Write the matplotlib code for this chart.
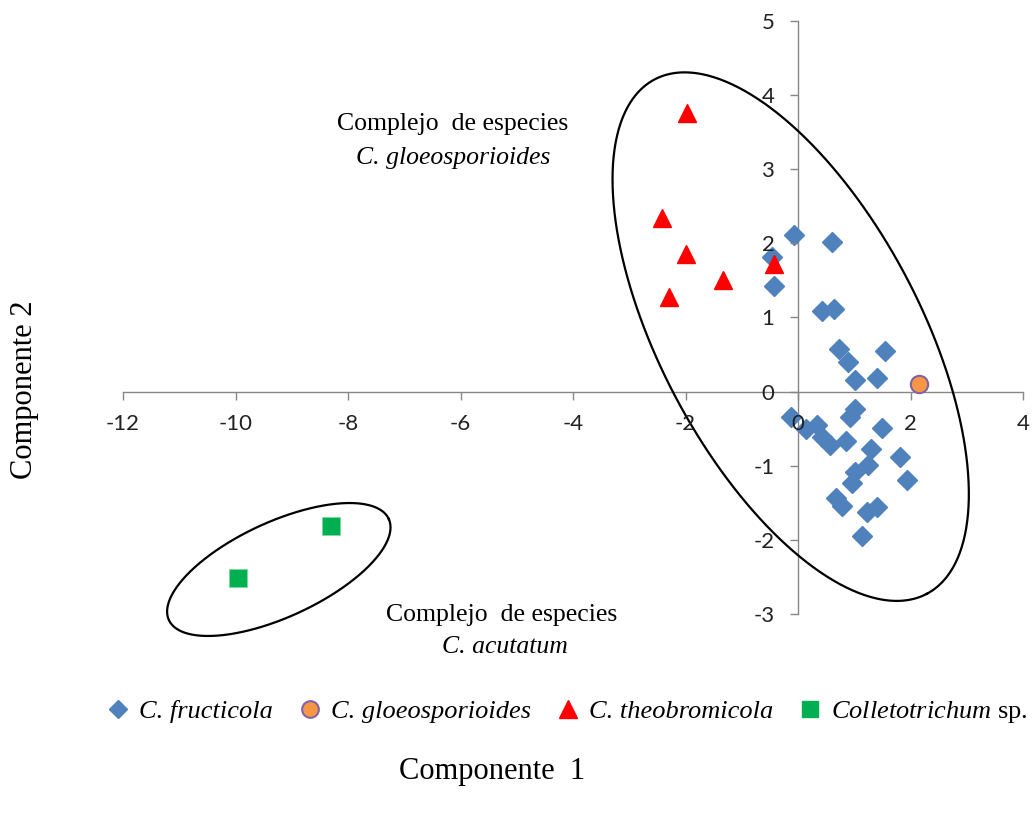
import numpy as np
import matplotlib
matplotlib.use("Agg")
import matplotlib.pyplot as plt
from matplotlib.lines import Line2D

plt.rcParams['axes.unicode_minus'] = False
plt.rcParams['mathtext.fontset'] = 'custom'
plt.rcParams['mathtext.it'] = 'Liberation Serif:italic'
plt.rcParams['mathtext.rm'] = 'Liberation Serif'

# ---- data ----
fructicola_x = [-0.07, 0.61, -0.46, -0.43, 0.43, 0.64, 0.72, 0.88, 1.54, 1.01, 1.41,
                -0.12, 0.14, 0.34, 0.43, 0.57, 0.85, 1.02, 0.92, 1.50, 1.29, 1.24,
                1.02, 0.96, 1.82, 1.94, 0.67, 0.79, 1.23, 1.41, 1.14]
fructicola_y = [2.11, 2.02, 1.82, 1.42, 1.08, 1.11, 0.57, 0.40, 0.54, 0.16, 0.18,
                -0.34, -0.50, -0.45, -0.61, -0.72, -0.67, -0.24, -0.34, -0.49, -0.77, -0.99,
                -1.08, -1.23, -0.88, -1.19, -1.44, -1.55, -1.62, -1.56, -1.95]
gloeo_x = [2.15]
gloeo_y = [0.10]
theo_x = [-1.98, -2.42, -1.99, -1.34, -2.30, -0.43]
theo_y = [3.75, 2.34, 1.85, 1.50, 1.28, 1.72]
sp_x = [-8.30, -9.95]
sp_y = [-1.81, -2.51]

xticks = list(range(-12, 5, 2))
yticks = list(range(-3, 6))
labels = ["C. fructicola", "C. gloeosporioides",
          "C. theobromicola", r"$\mathit{Colletotrichum}$ sp."]

W, H = 1033, 814
fig = plt.figure(figsize=(W / 100, H / 100), dpi=100)
ax = fig.add_axes([123 / W, 200 / H, 900 / W, 593.3 / H])
ax.set_xlim(-12, 4)
ax.set_ylim(-3, 5)

for s in ['top', 'right']:
    ax.spines[s].set_visible(False)
for s in ['left', 'bottom']:
    ax.spines[s].set_position(('data', 0))
    ax.spines[s].set_color('#868686')
    ax.spines[s].set_linewidth(1.0)
    ax.spines[s].set_zorder(1)

ax.set_xticks(xticks)
ax.set_yticks(yticks)
ax.tick_params(direction='out', length=6, color='#868686', width=1.0,
               labelsize=16, labelcolor='#222222')
ax.tick_params(axis='x', pad=10)
ax.tick_params(axis='y', pad=11)
for lab in ax.get_xticklabels() + ax.get_yticklabels():
    lab.set_family('Lato')
ax.xaxis.set_zorder(5)
ax.yaxis.set_zorder(5)

blue = '#4F81BD'
ax.plot(fructicola_x, fructicola_y, ls='none', marker='D', ms=10, mfc=blue, mec=blue, zorder=3)
ax.plot(gloeo_x, gloeo_y, ls='none', marker='o', ms=12.5, mfc='#F79646', mec='#8064A2', mew=1.5, zorder=4)
ax.plot(theo_x, theo_y, ls='none', marker='^', ms=13.5, mfc='#FF0000', mec='#FF0000', zorder=4)
ax.plot(sp_x, sp_y, ls='none', marker='s', ms=13.5, mfc='#00B050', mec='#7FD8A0', mew=0.6, zorder=4)

# ellipses (defined in pixel units, converted to data units)
pos = ax.get_position()
sx = pos.width * W / 16.0
sy = pos.height * H / 8.0


def ellipse_xy(cx, cy, a_px, b_px, ang_deg):
    t = np.linspace(0, 2 * np.pi, 500)
    u = a_px * np.cos(t)
    v = b_px * np.sin(t)
    th = np.radians(ang_deg)
    px = u * np.cos(th) - v * np.sin(th)
    py = u * np.sin(th) + v * np.cos(th)
    return cx + px / sx, cy + py / sy


ex, ey = ellipse_xy(-0.13, 0.74, 291, 130, -62.1)
ax.plot(ex, ey, color='black', lw=1.6, zorder=2, clip_on=False)
ex, ey = ellipse_xy(-9.23, -2.40, 121, 47.5, 24.7)
ax.plot(ex, ey, color='black', lw=1.6, zorder=2, clip_on=False)

serif = 'Liberation Serif'
fig.text(453 / W, 1 - 124 / H, "Complejo  de especies", family=serif, size=18.5,
         ha='center', va='center')
fig.text(453 / W, 1 - 158 / H, "C. gloeosporioides", family=serif, size=18.5,
         style='italic', ha='center', va='center')
fig.text(502 / W, 1 - 615 / H, "Complejo  de especies", family=serif, size=18.5,
         ha='center', va='center')
fig.text(505 / W, 1 - 647 / H, "C. acutatum", family=serif, size=18.5,
         style='italic', ha='center', va='center')

fig.text(492 / W, 1 - 771 / H, "Componente  1", family=serif, size=22,
         ha='center', va='center')
fig.text(25 / W, 1 - 390 / H, "Componente 2", family=serif, size=22,
         ha='center', va='center', rotation=90)

handles = [
    Line2D([], [], ls='none', marker='D', ms=9, mfc=blue, mec=blue),
    Line2D([], [], ls='none', marker='o', ms=12, mfc='#F79646', mec='#8064A2', mew=1.5),
    Line2D([], [], ls='none', marker='^', ms=13, mfc='#FF0000', mec='#FF0000'),
    Line2D([], [], ls='none', marker='s', ms=12, mfc='#00B050', mec='#00B050'),
]
leg = fig.legend(handles, labels, loc='center', bbox_to_anchor=(566 / W, 1 - 712 / H),
                 ncol=4, frameon=False, prop={'family': serif, 'size': 19},
                 handletextpad=0.3, columnspacing=0.9, handlelength=1.0)
for t in leg.get_texts()[:3]:
    t.set_style('italic')

fig.savefig('out.png', dpi=100)
